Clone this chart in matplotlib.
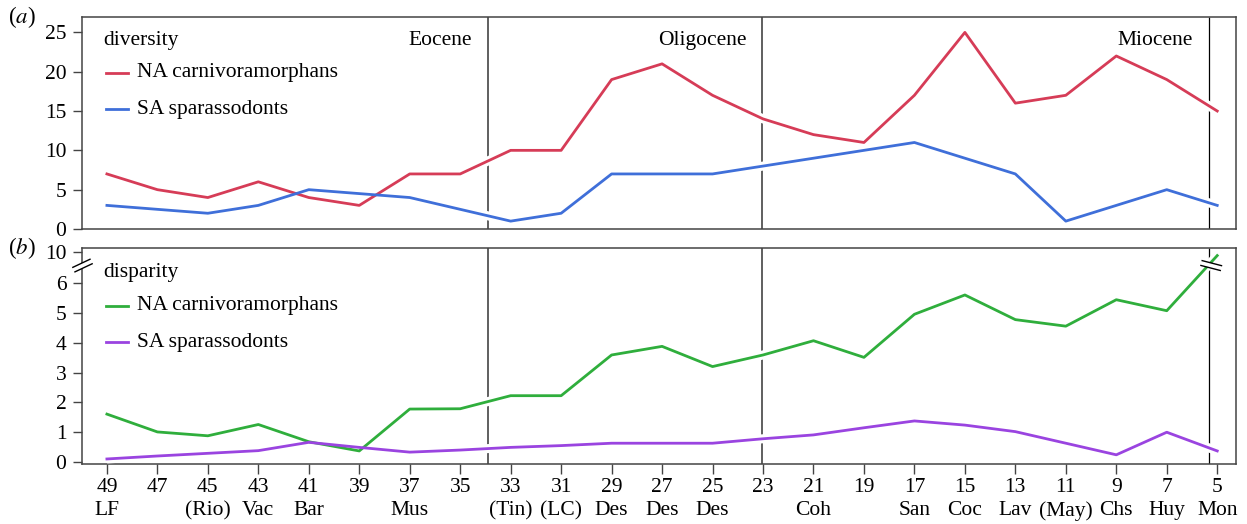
import numpy as np
import matplotlib
matplotlib.use('Agg')
import matplotlib.pyplot as plt

plt.rcParams['font.family'] = ['Liberation Serif', 'DejaVu Serif']
plt.rcParams['mathtext.fontset'] = 'stix'

# time bins (Ma)
ages = [49, 47, 45, 43, 41, 39, 37, 35, 33, 31, 29, 27, 25, 23, 21, 19, 17, 15, 13, 11, 9, 7, 5]
bin_names = ['LF', '', '(Rio)', 'Vac', 'Bar', '', 'Mus', '', '(Tin)', '(LC)', 'Des', 'Des', 'Des',
             '', 'Coh', '', 'San', 'Coc', 'Lav', '(May)', 'Chs', 'Huy', 'Mon']

div_na = [7, 5, 4, 6, 4, 3, 7, 7, 10, 10, 19, 21, 17, 14, 12, 11, 17, 25, 16, 17, 22, 19, 15]
div_sa = [3, 2.5, 2, 3, 5, 4.5, 4, 2.5, 1, 2, 7, 7, 7, 8, 9, 10, 11, 9, 7, 1, 3, 5, 3]

disp_na = [1.6, 1.0, 0.87, 1.25, 0.67, 0.36, 1.77, 1.78, 2.22, 2.22, 3.59, 3.88, 3.2, 3.59,
           4.07, 3.51, 4.96, 5.61, 4.78, 4.56, 5.45, 5.08, 9.6]
disp_sa = [0.09, 0.19, 0.28, 0.37, 0.65, 0.48, 0.32, 0.39, 0.48, 0.54, 0.62, 0.62, 0.62, 0.77,
           0.9, 1.14, 1.37, 1.23, 1.01, 0.62, 0.23, 0.99, 0.36]

boundaries = [33.9, 23.03, 5.33]
epochs = ['Eocene', 'Oligocene', 'Miocene']

RED = '#d63c57'
BLUE = '#3f6fd9'
GREEN = '#2fae3c'
PURPLE = '#9a44e0'
SPINE = '#444444'
FS = 15.5

BREAK = 6.0
SQUEEZE = 0.26   # y-scale above the break


def squeeze(v):
    v = np.asarray(v, dtype=float)
    return np.where(v > BREAK, BREAK + (v - BREAK) * SQUEEZE, v)


fig = plt.figure(figsize=(12.47, 5.24), dpi=100)
ax_a = fig.add_axes([0.0655, 0.5630, 0.9254, 0.4052])
ax_b = fig.add_axes([0.0655, 0.1139, 0.9254, 0.4122])


def px_to_axes(ax, dx, dy):
    bb = ax.get_window_extent()
    return dx / bb.width, dy / bb.height


def draw_series(ax, y, color):
    ax.plot(ages, y, color='white', lw=6.5, solid_capstyle='butt', zorder=3)
    ax.plot(ages, y, color=color, lw=2.0, zorder=4)


def legend_block(ax, title, entries):
    ax.text(0.0185, 0.89, title, transform=ax.transAxes, fontsize=FS, va='center', ha='left')
    ys = [0.735, 0.565]
    for (lab, col), yy in zip(entries, ys):
        ax.plot([0.021, 0.040], [yy, yy], color=col, lw=2.0, transform=ax.transAxes, zorder=5)
        ax.text(0.048, yy, lab, transform=ax.transAxes, fontsize=FS, va='center', ha='left')


for ax in (ax_a, ax_b):
    ax.set_xlim(50, 4.27)
    for s in ax.spines.values():
        s.set_color(SPINE)
        s.set_linewidth(1.1)
    ax.tick_params(axis='y', direction='out', length=6.5, width=1.0, color=SPINE,
                   labelsize=FS, pad=4.5)
    ax.vlines(boundaries[:2], 0, 1, transform=ax.get_xaxis_transform(), color=SPINE, lw=1.2, zorder=1)
    ax.vlines(boundaries[2], 0, 1, transform=ax.get_xaxis_transform(), color='black', lw=0.9, zorder=1)

# (a) diversity
draw_series(ax_a, div_na, RED)
draw_series(ax_a, div_sa, BLUE)
ax_a.set_ylim(0, 27)
ax_a.set_yticks([0, 5, 10, 15, 20, 25])
ax_a.set_xticks([])
legend_block(ax_a, 'diversity', [('NA carnivoramorphans', RED), ('SA sparassodonts', BLUE)])
trans = ax_a.get_xaxis_transform()
for b, name in zip(boundaries, epochs):
    ax_a.text(b + 0.62, 0.89, name, transform=trans, ha='right', va='center', fontsize=FS)
ax_a.text(-0.064, 1.0, r'($\mathit{a}$)', transform=ax_a.transAxes, fontsize=16.5, va='center', ha='left')

# (b) disparity
draw_series(ax_b, squeeze(disp_na), GREEN)
draw_series(ax_b, disp_sa, PURPLE)
ax_b.set_ylim(-0.09, 7.18)
ax_b.set_yticks([0, 1, 2, 3, 4, 5, 6, float(squeeze([10])[0])])
ax_b.set_yticklabels(['0', '1', '2', '3', '4', '5', '6', '10'])
ax_b.set_xticks(ages)
ax_b.set_xticklabels([f'{a}\n{n}' for a, n in zip(ages, bin_names)], linespacing=1.32)
ax_b.tick_params(axis='x', direction='out', length=7.5, width=1.0, color=SPINE, labelsize=FS, pad=2)
legend_block(ax_b, 'disparity', [('NA carnivoramorphans', GREEN), ('SA sparassodonts', PURPLE)])
ax_b.text(-0.064, 1.0, r'($\mathit{b}$)', transform=ax_b.transAxes, fontsize=16.5, va='center', ha='left')

# break marks
fig.canvas.draw()


def break_mark(ax, cx, cy, vec, gap, length):
    # cx, cy in axes fraction; vec, gap, length in pixels
    vx, vy = np.array(vec, dtype=float) / np.hypot(*vec)
    nx, ny = -vy, vx
    hx, hy = px_to_axes(ax, vx * length / 2, vy * length / 2)
    ox, oy = px_to_axes(ax, nx * gap / 2, ny * gap / 2)
    ax.plot([cx - hx, cx + hx], [cy - hy, cy + hy], color='white', lw=gap * 0.72,
            transform=ax.transAxes, clip_on=False, zorder=6, solid_capstyle='butt')
    for s in (-1, 1):
        ax.plot([cx - hx + s * ox, cx + hx + s * ox], [cy - hy + s * oy, cy + hy + s * oy],
                color='black', lw=1.0, transform=ax.transAxes, clip_on=False, zorder=7)


ylo, yhi = ax_b.get_ylim()
yb = (6.6 - ylo) / (yhi - ylo)
break_mark(ax_b, 0.0007, yb, (17, 8), 5, 19)
xlo, xhi = ax_b.get_xlim()
xb = (5.33 - xlo) / (xhi - xlo)
break_mark(ax_b, xb + 0.002, yb, (50, -13), 5, 20)

fig.savefig('out.png', dpi=100)
